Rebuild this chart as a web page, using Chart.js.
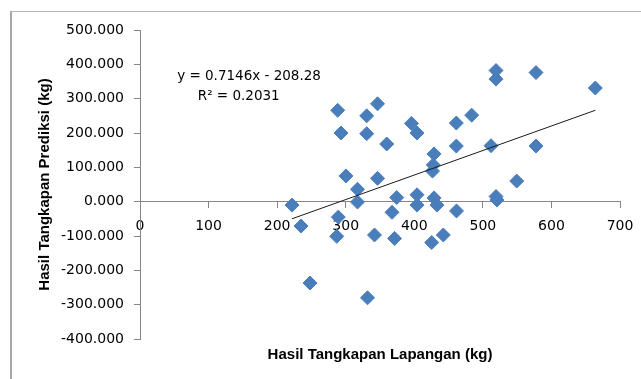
<!DOCTYPE html>
<html>
<head>
<meta charset="utf-8">
<title>Hasil Tangkapan</title>
<script src="https://cdn.jsdelivr.net/npm/chart.js@4/dist/chart.umd.min.js"></script>
<style>
  body { margin: 0; background: #fff; overflow: hidden; }
  #frame {
    position: absolute; left: 10px; top: 11px; width: 800px; height: 500px;
    border-left: 2px solid #a6a6a6; border-top: 1px solid #b4b4b4;
  }
  #chart { position: absolute; left: 0; top: 0; }
</style>
</head>
<body>
<div id="frame"></div>
<canvas id="chart" width="641" height="379"></canvas>
<script>
// Field catch (kg) against predicted catch (kg)
const fieldCatch = [
  221.7, 234.8, 247.9, 288.3, 293.1, 289.2, 286.9, 300.4, 317.2, 317.2,
  330.6, 330.6, 331.8, 342.0, 346.4, 346.4, 359.8, 367.5, 371.2, 374.4,
  395.9, 404.0, 404.0, 404.0, 425.4, 428.8, 427.7, 426.6, 428.8, 433.1,
  442.3, 461.3, 461.3, 461.6, 483.7, 511.9, 519.2, 519.2, 519.2, 520.6,
  549.4, 577.5, 577.5, 664.0
];
const predictedCatch = [
  -10, -71, -237, 266, 200, -45, -101, 75, 36, -1,
  250, 198, -280, -97, 285, 68, 168, -31, -107, 12,
  228, 200, 20, -10, -119, 139, 107, 89, 11, -10,
  -97, 229, 162, -27, 252, 163, 382, 357, 15, 5,
  60, 376, 162, 331
];

// Linear trend as reported on the chart
const trendSlope = 0.7146;
const trendIntercept = -208.28;
const trendR2 = 0.2031;

const xTicks = [0, 100, 200, 300, 400, 500, 600, 700];
const yTicks = [-400, -300, -200, -100, 0, 100, 200, 300, 400, 500];

const points = fieldCatch.map((x, i) => ({ x: x, y: predictedCatch[i] }));
const xMin = Math.min(...fieldCatch);
const xMax = Math.max(...fieldCatch);
const trendPoints = [
  { x: xMin, y: trendSlope * xMin + trendIntercept },
  { x: xMax, y: trendSlope * xMax + trendIntercept }
];

// Writes the trend equation and R² inside the plot
const trendLabel = {
  id: 'trendLabel',
  afterDatasetsDraw(chart, args, opts) {
    const ctx = chart.ctx;
    const sx = chart.scales.x, sy = chart.scales.y;
    ctx.save();
    ctx.font = opts.font;
    ctx.fillStyle = opts.color;
    ctx.textAlign = 'center';
    ctx.textBaseline = 'middle';
    opts.lines.forEach(line => {
      ctx.fillText(line.text, sx.getPixelForValue(line.x), sy.getPixelForValue(line.y));
    });
    ctx.restore();
  }
};

const axisGray = '#868686';
const tickFont = { family: 'DejaVu Sans', size: 14 };
const titleFont = { family: 'Liberation Sans', size: 15, weight: 'bold' };

const ctx = document.getElementById('chart').getContext('2d');
new Chart(ctx, {
  type: 'scatter',
  data: {
    datasets: [
      {
        label: 'Linear',
        type: 'line',
        data: trendPoints,
        borderColor: '#1a1a1a',
        borderWidth: 1,
        pointRadius: 0,
        fill: false,
        order: 0
      },
      {
        label: 'Prediksi',
        data: points,
        pointStyle: 'rectRot',
        pointRadius: 7,
        pointHoverRadius: 7,
        backgroundColor: '#4a7ebb',
        borderColor: '#4a7ebb',
        borderWidth: 1,
        order: 1
      }
    ]
  },
  options: {
    responsive: false,
    animation: false,
    layout: { padding: { left: 0, right: 21, top: 30, bottom: 15 } },
    plugins: {
      legend: { display: false },
      tooltip: { enabled: false },
      title: {
        display: true,
        text: 'Hasil Tangkapan Lapangan (kg)',
        position: 'bottom',
        fullSize: false,
        color: '#000',
        font: titleFont,
        padding: { top: 7, bottom: 0 }
      },
      trendLabel: {
        font: '13.5px "DejaVu Sans"',
        color: '#000',
        lines: [
          { text: 'y = ' + trendSlope + 'x - ' + Math.abs(trendIntercept), x: 159, y: 366 },
          { text: 'R\u00b2 = ' + trendR2, x: 144, y: 305 }
        ]
      }
    },
    scales: {
      x: {
        type: 'linear',
        position: { y: 0 },
        min: xTicks[0],
        max: xTicks[xTicks.length - 1],
        afterBuildTicks: s => { s.ticks = xTicks.map(v => ({ value: v })); },
        // the end labels fit inside the layout padding already
        afterFit: s => { s.paddingLeft = 0; s.paddingRight = 0; },
        ticks: { font: tickFont, color: '#000', padding: 10 },
        grid: { drawOnChartArea: false, tickLength: 6, color: axisGray },
        border: { color: axisGray }
      },
      y: {
        min: yTicks[0],
        max: yTicks[yTicks.length - 1],
        afterBuildTicks: s => { s.ticks = yTicks.map(v => ({ value: v })); },
        afterFit: s => { s.width = 140; },
        ticks: {
          font: tickFont,
          color: '#000',
          padding: 10,
          callback: v => v.toFixed(3)
        },
        grid: { drawOnChartArea: false, tickLength: 6, color: axisGray },
        border: { color: axisGray },
        title: {
          display: true,
          text: 'Hasil Tangkapan Prediksi (kg)',
          color: '#000',
          font: titleFont,
          padding: { top: 36, bottom: 0 }
        }
      }
    }
  },
  plugins: [trendLabel]
});
</script>
</body>
</html>
